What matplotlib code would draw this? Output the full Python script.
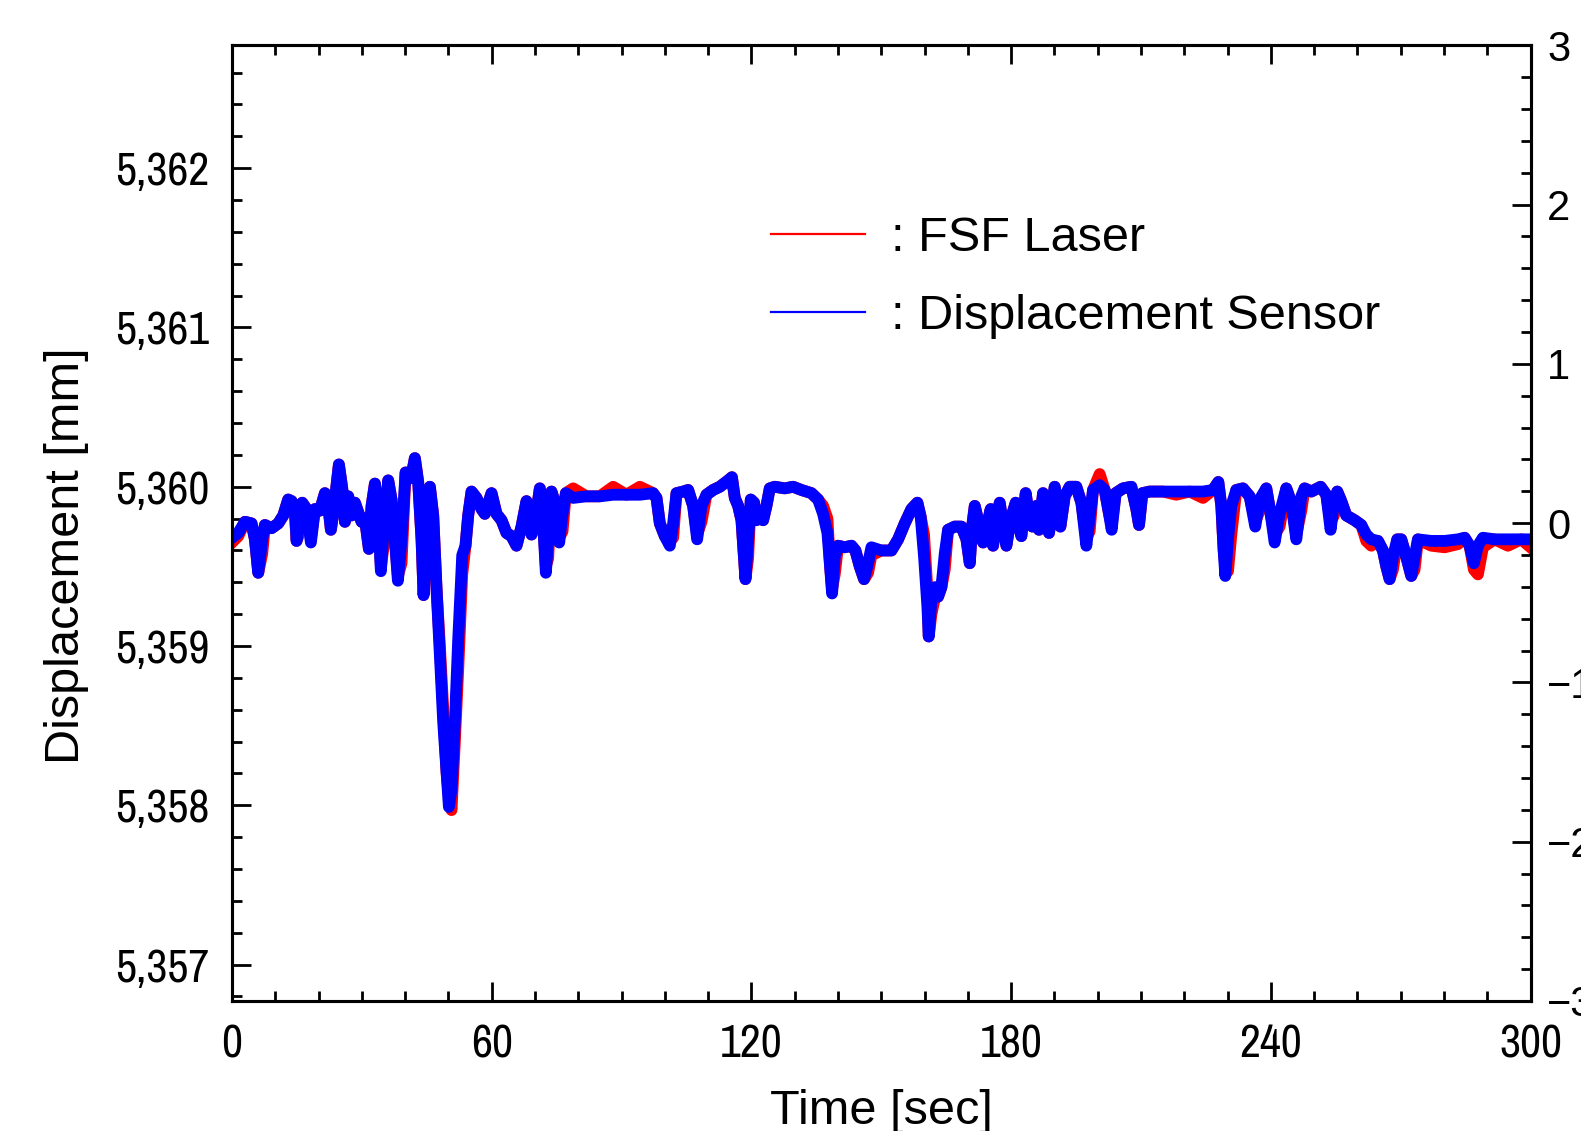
import matplotlib
matplotlib.use("Agg")
import matplotlib.pyplot as plt
from matplotlib.lines import Line2D
from matplotlib.ticker import MultipleLocator, FuncFormatter
from matplotlib import font_manager

# ---------------------------------------------------------------- data
time_s = [
    0.0, 1.46, 3.0, 4.54, 5.31, 6.08, 7.0, 7.62, 9.16, 10.7,
    11.86, 13.0, 13.78, 14.55, 14.93, 15.47, 16.24, 17.24, 18.24, 19.17,
    20.32, 21.48, 22.25, 22.86, 23.63, 24.71, 25.48, 26.1, 26.87, 27.64,
    28.41, 29.18, 29.95, 30.72, 31.64, 32.26, 33.03, 33.64, 34.41, 35.18,
    36.1, 36.87, 37.64, 38.34, 39.18, 40.11, 40.88, 41.49, 42.26, 43.03,
    43.8, 44.27, 44.96, 45.73, 46.5, 47.27, 48.04, 48.81, 49.58, 50.12,
    50.73, 51.5, 52.27, 53.2, 53.96, 54.58, 55.35, 56.5, 57.66,
    58.43, 59.97, 61.12, 62.28, 63.43, 64.59, 65.74, 66.9, 68.05, 69.21,
    69.98, 71.13, 71.9, 72.52, 73.05, 73.82, 74.83, 75.6, 76.37, 77.14,
    78.83, 81.9, 84.99, 88.07, 91.15, 94.23, 97.3, 98.08, 98.85, 100.0,
    101.16, 101.93, 102.7, 104.23, 105.39, 106.54, 107.47, 108.47, 109.62, 111.16,
    112.7, 114.63, 115.5,
    116.17, 116.94, 117.71, 118.63, 119.24, 119.86, 120.63, 121.17, 121.94, 122.71,
    123.48, 124.25, 125.4, 127.71, 129.64, 131.56, 133.87, 135.41, 136.57, 137.57,
    138.18, 138.64, 139.26, 140.03, 141.57, 143.11, 144.03, 145.03, 146.03, 146.96,
    147.73, 150.04, 152.35, 153.89, 155.43, 156.97, 158.35, 159.12, 159.89, 160.66,
    160.97, 161.59, 162.36, 163.13, 163.9, 164.67, 165.44, 166.98, 168.52, 169.68,
    170.45, 170.99, 171.6, 172.37, 173.52, 174.52, 175.29,
    175.83, 176.6, 177.37, 178.29, 178.91, 179.83, 181.06, 181.83, 182.37, 183.37,
    184.14, 184.91, 185.84, 186.45, 187.38, 188.15, 188.76, 190.07, 190.84, 191.38,
    192.38, 193.53, 195.07, 196.23, 197.38, 198.15, 198.92, 200.46, 201.62, 202.62,
    203.23, 204.16, 205.85, 207.78, 208.93, 209.55, 210.32, 212.01, 215.09, 218.17,
    221.25, 224.33, 226.64, 227.87, 228.56, 229.1, 229.48, 230.1, 230.87, 232.02,
    233.56,
    235.1, 236.4, 237.41, 238.95, 239.95, 240.88, 242.03, 243.57, 244.73, 245.88,
    247.04, 247.81, 249.35, 251.5, 252.81, 253.81, 254.58, 255.35, 256.27, 257.43,
    259.35, 260.89, 262.05, 263.2, 264.74, 265.9, 266.67, 267.44, 268.21, 269.21,
    270.13, 271.29, 272.44, 273.21, 273.98, 277.06, 280.14, 283.22, 284.76, 285.91,
    286.91, 287.84, 288.99, 291.68, 294.77, 297.84, 300.0,
]

sensor_mm = [
    5359.68, 5359.71, 5359.78, 5359.77, 5359.67, 5359.46, 5359.67, 5359.76, 5359.74, 5359.77,
    5359.82, 5359.92, 5359.91, 5359.84, 5359.66, 5359.76, 5359.90, 5359.86, 5359.65, 5359.86,
    5359.85, 5359.96, 5359.88, 5359.73, 5359.88, 5360.14, 5359.99, 5359.78, 5359.94, 5359.82,
    5359.90, 5359.84, 5359.78, 5359.80, 5359.61, 5359.88, 5360.02, 5359.88, 5359.47, 5359.78,
    5360.04, 5359.92, 5359.67, 5359.41, 5359.67, 5360.09, 5360.05, 5360.07, 5360.18, 5360.03,
    5359.67, 5359.32, 5359.78, 5360.00, 5359.82, 5359.36, 5358.94, 5358.52, 5358.21, 5357.99,
    5358.10, 5358.52, 5359.04, 5359.57, 5359.63, 5359.82, 5359.97, 5359.93, 5359.86,
    5359.83, 5359.96, 5359.83, 5359.79, 5359.71, 5359.69, 5359.63, 5359.75, 5359.91, 5359.70,
    5359.77, 5359.99, 5359.77, 5359.46, 5359.67, 5359.97, 5359.88, 5359.65, 5359.83, 5359.96,
    5359.93, 5359.94, 5359.94, 5359.95, 5359.95, 5359.95, 5359.96, 5359.93, 5359.77, 5359.69,
    5359.63, 5359.77, 5359.96, 5359.97, 5359.98, 5359.88, 5359.67, 5359.88, 5359.95, 5359.98,
    5360.00, 5360.04, 5360.06,
    5359.93, 5359.88, 5359.79, 5359.42, 5359.67, 5359.92, 5359.90, 5359.79, 5359.81, 5359.79,
    5359.88, 5359.99, 5360.00, 5359.99, 5360.00, 5359.98, 5359.96, 5359.92, 5359.83, 5359.71,
    5359.50, 5359.33, 5359.56, 5359.63, 5359.62, 5359.63, 5359.60, 5359.50, 5359.42, 5359.52,
    5359.62, 5359.60, 5359.60, 5359.67, 5359.77, 5359.86, 5359.90, 5359.81, 5359.56, 5359.25,
    5359.06, 5359.29, 5359.37, 5359.31, 5359.37, 5359.58, 5359.73, 5359.75, 5359.75, 5359.67,
    5359.52, 5359.75, 5359.88, 5359.79, 5359.65, 5359.77, 5359.86,
    5359.63, 5359.79, 5359.90, 5359.73, 5359.63, 5359.79, 5359.90, 5359.75, 5359.69, 5359.96,
    5359.81, 5359.75, 5359.88, 5359.73, 5359.96, 5359.81, 5359.71, 5360.00, 5359.86, 5359.75,
    5359.94, 5360.00, 5360.00, 5359.90, 5359.63, 5359.81, 5359.98, 5360.01, 5359.98, 5359.83,
    5359.73, 5359.96, 5359.99, 5360.00, 5359.86, 5359.76, 5359.96, 5359.97, 5359.97, 5359.97,
    5359.97, 5359.97, 5359.98, 5360.03, 5359.88, 5359.60, 5359.44, 5359.67, 5359.88, 5359.98,
    5359.99,
    5359.94, 5359.75, 5359.92, 5359.99, 5359.83, 5359.65, 5359.83, 5359.99, 5359.90, 5359.67,
    5359.94, 5359.99, 5359.97, 5360.00, 5359.95, 5359.73, 5359.90, 5359.97, 5359.91, 5359.82,
    5359.79, 5359.76, 5359.70, 5359.67, 5359.66, 5359.60, 5359.50, 5359.42, 5359.56, 5359.67,
    5359.67, 5359.56, 5359.44, 5359.56, 5359.67, 5359.66, 5359.66, 5359.67, 5359.68, 5359.63,
    5359.52, 5359.63, 5359.68, 5359.67, 5359.67, 5359.67, 5359.67,
]

laser_mm = [
    5359.65, 5359.69, 5359.78, 5359.77, 5359.67, 5359.46, 5359.58, 5359.76, 5359.74, 5359.77,
    5359.82, 5359.92, 5359.91, 5359.84, 5359.66, 5359.70, 5359.90, 5359.86, 5359.68, 5359.86,
    5359.85, 5359.96, 5359.88, 5359.73, 5359.88, 5360.14, 5359.99, 5359.78, 5359.94, 5359.82,
    5359.90, 5359.84, 5359.78, 5359.80, 5359.61, 5359.88, 5360.02, 5359.88, 5359.50, 5359.65,
    5360.04, 5359.92, 5359.67, 5359.44, 5359.52, 5360.09, 5360.05, 5360.07, 5360.18, 5360.03,
    5359.67, 5359.32, 5359.60, 5360.00, 5359.82, 5359.36, 5359.00, 5358.60, 5358.21, 5358.05,
    5357.97, 5358.40, 5358.85, 5359.45, 5359.63, 5359.82, 5359.97, 5359.93, 5359.86,
    5359.83, 5359.96, 5359.83, 5359.79, 5359.71, 5359.69, 5359.63, 5359.75, 5359.91, 5359.70,
    5359.77, 5359.99, 5359.77, 5359.50, 5359.55, 5359.97, 5359.88, 5359.68, 5359.72, 5359.96,
    5359.99, 5359.94, 5359.94, 5360.00, 5359.95, 5360.00, 5359.96, 5359.93, 5359.77, 5359.69,
    5359.66, 5359.68, 5359.96, 5359.97, 5359.98, 5359.88, 5359.70, 5359.78, 5359.95, 5359.98,
    5360.00, 5360.04, 5360.06,
    5359.93, 5359.88, 5359.79, 5359.42, 5359.55, 5359.92, 5359.90, 5359.79, 5359.81, 5359.79,
    5359.88, 5359.99, 5360.00, 5359.99, 5360.00, 5359.98, 5359.96, 5359.92, 5359.88, 5359.80,
    5359.50, 5359.36, 5359.45, 5359.63, 5359.62, 5359.63, 5359.60, 5359.50, 5359.42, 5359.46,
    5359.57, 5359.60, 5359.60, 5359.67, 5359.77, 5359.86, 5359.90, 5359.81, 5359.70, 5359.35,
    5359.06, 5359.20, 5359.30, 5359.31, 5359.37, 5359.48, 5359.73, 5359.75, 5359.75, 5359.67,
    5359.52, 5359.75, 5359.88, 5359.79, 5359.65, 5359.77, 5359.86,
    5359.63, 5359.79, 5359.90, 5359.73, 5359.63, 5359.79, 5359.90, 5359.75, 5359.69, 5359.96,
    5359.81, 5359.75, 5359.88, 5359.73, 5359.96, 5359.81, 5359.71, 5360.00, 5359.86, 5359.75,
    5359.94, 5360.00, 5360.00, 5359.90, 5359.68, 5359.72, 5359.98, 5360.08, 5359.98, 5359.83,
    5359.76, 5359.96, 5359.99, 5360.00, 5359.86, 5359.76, 5359.96, 5359.97, 5359.97, 5359.95,
    5359.97, 5359.93, 5359.98, 5360.03, 5359.88, 5359.60, 5359.50, 5359.47, 5359.70, 5359.98,
    5359.99,
    5359.94, 5359.78, 5359.85, 5359.99, 5359.83, 5359.70, 5359.75, 5359.99, 5359.90, 5359.70,
    5359.85, 5359.99, 5359.97, 5360.00, 5359.95, 5359.78, 5359.82, 5359.97, 5359.91, 5359.82,
    5359.79, 5359.76, 5359.66, 5359.63, 5359.66, 5359.60, 5359.50, 5359.42, 5359.48, 5359.67,
    5359.67, 5359.56, 5359.44, 5359.48, 5359.67, 5359.63, 5359.62, 5359.64, 5359.68, 5359.63,
    5359.48, 5359.45, 5359.62, 5359.67, 5359.63, 5359.67, 5359.62,
]

series_labels = [": FSF Laser", ": Displacement Sensor"]
x_ticks = [0, 60, 120, 180, 240, 300]
y_ticks = [5357, 5358, 5359, 5360, 5361, 5362]
y_range = (5356.772, 5362.772)
right_range = (-3, 3)

# ---------------------------------------------------------------- fonts
# the original uses a narrow gothic face for the numbers; take any condensed
# face that happens to be installed, otherwise shrink a regular one
fonts = font_manager.fontManager.ttflist
installed = {f.name for f in fonts}
SANS = "Liberation Sans" if "Liberation Sans" in installed else "DejaVu Sans"
narrow = None
for f in fonts:
    if "Narrow" in f.name or "Condensed" in f.name:
        narrow = dict(family=f.name)
        break
if narrow is None:
    for f in fonts:
        if f.stretch in ("condensed", "semi-condensed") and f.style == "normal" \
                and f.weight in (400, "normal", "regular"):
            narrow = dict(family=f.name, stretch=f.stretch)
            break
if narrow is None:
    narrow = dict(family=SANS)
    tick_size = 28
else:
    tick_size = 33
plt.rcParams["font.family"] = [SANS, "DejaVu Sans"]

fig = plt.figure(figsize=(15.81, 11.31), dpi=100)
ax = fig.add_axes([0.1467, 0.115, 0.8214, 0.845])

ax.plot(time_s, laser_mm, color="#ff0000", lw=8.5, solid_joinstyle="round", zorder=2)
ax.plot(time_s, sensor_mm, color="#0000ff", lw=8.5, solid_joinstyle="round", zorder=3)

ax.set_xlim(0, 300)
ax.set_ylim(*y_range)
ax.set_xticks(x_ticks)
ax.set_yticks(y_ticks)
ax.xaxis.set_minor_locator(MultipleLocator(10))
ax.yaxis.set_minor_locator(MultipleLocator(0.2))
ax.yaxis.set_major_formatter(FuncFormatter(lambda v, p: f"{v:,.0f}"))
ax.tick_params(which="both", direction="in", top=True, right=False, width=2.0)
ax.tick_params(which="major", length=14, labelsize=tick_size, pad=16)
ax.tick_params(which="minor", length=7)
for lab in ax.get_xticklabels() + ax.get_yticklabels():
    lab.set(**narrow)
for s in ax.spines.values():
    s.set_linewidth(2.2)

ax.set_xlabel("Time [sec]", fontsize=35)
ax.xaxis.set_label_coords(0.5, -0.092)
ax.xaxis.label.set_va("top")
ax.set_ylabel("Displacement [mm]", fontsize=35)
ax.yaxis.set_label_coords(-0.110, 0.466)

ax2 = ax.twinx()
ax2.set_ylim(*right_range)
ax2.yaxis.set_major_locator(MultipleLocator(1))
ax2.yaxis.set_minor_locator(MultipleLocator(0.2))
ax2.tick_params(which="both", direction="in", width=2.0, left=False)
ax2.tick_params(which="major", length=14, labelsize=30, pad=12)
ax2.tick_params(which="minor", length=7)
for s in ax2.spines.values():
    s.set_linewidth(2.2)

handles = [Line2D([], [], color="#ff0000", lw=1.6),
           Line2D([], [], color="#0000ff", lw=1.6)]
ax.legend(handles, series_labels, loc="center left",
          bbox_to_anchor=(0.415, 0.757), frameon=False,
          prop={"family": SANS, "size": 35}, handlelength=1.93,
          handletextpad=0.55, labelspacing=0.67, borderpad=0,
          borderaxespad=0)

fig.savefig("out.png", dpi=100)
